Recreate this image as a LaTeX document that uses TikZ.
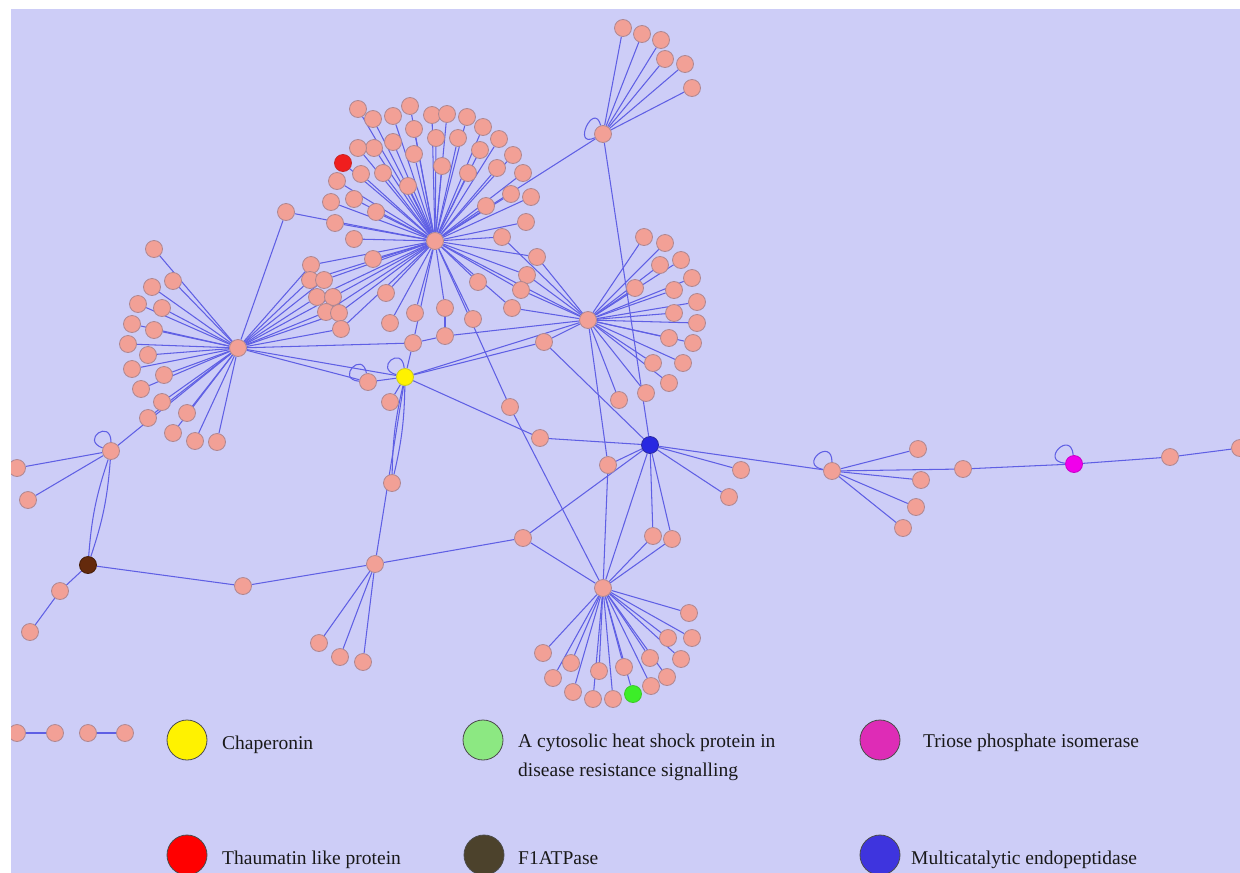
\documentclass[tikz,border=0pt]{standalone}
\usepackage{fontspec}
\setmainfont{Liberation Serif}
\pgfdeclarelayer{bg}\pgfdeclarelayer{edges}\pgfsetlayers{bg,edges,main}
\definecolor{bgc}{RGB}{205,205,247}
\definecolor{nodec}{RGB}{242,160,150}
\definecolor{nodeb}{RGB}{175,135,145}
\definecolor{edgec}{RGB}{95,95,228}
\definecolor{txtc}{RGB}{25,25,25}
\definecolor{lgreen}{RGB}{140,232,130}
\definecolor{lmag}{RGB}{222,44,182}
\definecolor{lbrown}{RGB}{76,66,44}
\definecolor{lblue}{RGB}{62,52,222}
\definecolor{nbrown}{RGB}{100,42,12}
\begin{document}
\begin{tikzpicture}[x=1pt,y=-1pt,
  pn/.style={circle,fill=nodec,draw=nodeb,line width=0.8pt,inner sep=0pt,minimum size=17pt},
  hubred/.style={pn,fill={rgb,255:red,240;green,30;blue,30},draw={rgb,255:red,200;green,40;blue,40}},
  lnk/.style={draw=edgec,line width=1.05pt},
  every loop/.style={},
  lg/.style={circle,draw=black!70,line width=0.8pt,inner sep=0pt,minimum size=40pt},
  lt/.style={anchor=base west,inner sep=0pt,text=txtc,font=\fontsize{19.5}{22}\selectfont}]
\useasboundingbox (0,0) rectangle (1240,873);
\begin{pgfonlayer}{bg}
\fill[white] (0,0) rectangle (1240,873);
\fill[bgc] (11,9) rectangle (1240,873);
\end{pgfonlayer}
% hubs
\node[pn] (H1) at (435,241) {};
\node[pn] (L) at (238,348) {};
\node[pn] (R) at (588,320) {};
\node[pn] (T3) at (603,134) {};
\node[pn] (B) at (603,588) {};
\node[pn,fill={rgb,255:red,40;green,40;blue,225},draw={rgb,255:red,40;green,40;blue,160}] (BL) at (650,445) {};
\node[pn,fill=yellow,draw={rgb,255:red,200;green,200;blue,40}] (YE) at (405,377) {};
\node[pn,fill=nbrown,draw={rgb,255:red,70;green,30;blue,10}] (BR) at (88,565) {};
\node[pn] (C) at (832,471) {};
\node[pn,fill={rgb,255:red,240;green,0;blue,235},draw={rgb,255:red,200;green,0;blue,200}] (MG) at (1074,464) {};
\node[hubred] (RD) at (343,163) {};
\node[pn,fill={rgb,255:red,60;green,238;blue,40},draw={rgb,255:red,60;green,200;blue,40}] (GR) at (633,694) {};
% leaves
\foreach \i/\x/\y in {1/623/28,2/642/34,3/661/40,4/665/59,5/685/64,6/692/88}
  \node[pn] (t\i) at (\x,\y) {};
\foreach \i/\x/\y in {1/358/109,2/373/119,3/393/116,4/410/106,5/432/115,6/447/114,7/467/117,8/483/127,
  9/414/129,10/436/138,11/458/138,12/499/139,13/513/155,14/480/150,15/393/142,16/374/148,17/358/148,
  18/414/154,19/442/166,20/468/173,21/497/168,22/523/173,23/383/173,24/361/174,25/337/181,26/408/186,
  27/511/194,28/531/197,29/354/199,30/331/202,31/486/206,32/376/212,33/335/223,34/526/222,35/502/237,
  36/354/239,37/373/259,38/537/257,39/527/275,40/478/282,41/521/290,42/512/308,43/386/293,44/390/323,
  45/415/313,46/445/308,47/473/319}
  \node[pn] (h\i) at (\x,\y) {};
\foreach \i/\x/\y in {1/311/265,2/310/280,3/324/280,4/317/297,5/333/297,6/326/312,7/339/313,8/341/329}
  \node[pn] (k\i) at (\x,\y) {};
\foreach \i/\x/\y in {1/154/249,2/173/281,3/152/287,4/162/308,5/138/304,6/132/324,7/154/330,8/128/344,
  9/148/355,10/132/369,11/164/375,12/141/389,13/162/402,14/148/418,15/187/413,16/173/433,17/195/441,18/217/442}
  \node[pn] (l\i) at (\x,\y) {};
\foreach \i/\x/\y in {1/644/237,2/665/243,3/660/265,4/681/260,5/692/278,6/635/288,7/674/290,8/697/302,
  9/674/313,10/697/323,11/669/338,12/693/343,13/653/363,14/683/363,15/669/383,16/646/393,17/619/400}
  \node[pn] (rl\i) at (\x,\y) {};
\foreach \i/\x/\y in {1/689/613,2/668/638,3/692/638,4/681/659,5/650/658,6/667/677,7/651/686,8/613/699,
  9/593/699,10/573/692,11/553/678,12/543/653,13/571/663,14/599/671,15/624/667}
  \node[pn] (bl\i) at (\x,\y) {};
\foreach \i/\x/\y in {1/918/449,2/921/480,3/916/507,4/903/528}
  \node[pn] (q\i) at (\x,\y) {};
\node[pn] (p286) at (286,212) {};
\node[pn] (NA) at (111,451) {};
\node[pn] (a1) at (17,468) {};
\node[pn] (a2) at (28,500) {};
\node[pn] (b1) at (60,591) {};
\node[pn] (b2) at (30,632) {};
\node[pn] (c1) at (243,586) {};
\node[pn] (D) at (375,564) {};
\node[pn] (d1) at (319,643) {};
\node[pn] (d2) at (340,657) {};
\node[pn] (d3) at (363,662) {};
\node[pn] (f1) at (392,483) {};
\node[pn] (g1) at (390,402) {};
\node[pn] (S1) at (368,382) {};
\node[pn] (m1) at (413,343) {};
\node[pn] (m2) at (445,336) {};
\node[pn] (E) at (523,538) {};
\node[pn] (n1) at (540,438) {};
\node[pn] (n2) at (510,407) {};
\node[pn] (n3) at (608,465) {};
\node[pn] (n4) at (653,536) {};
\node[pn] (n5) at (672,539) {};
\node[pn] (o1) at (741,470) {};
\node[pn] (o2) at (729,497) {};
\node[pn] (s2) at (544,342) {};
\node[pn] (u1) at (963,469) {};
\node[pn] (u2) at (1170,457) {};
\node[pn] (u3) at (1240,448) {};
\node[pn] (z1) at (17,733) {};
\node[pn] (z2) at (55,733) {};
\node[pn] (z3) at (88,733) {};
\node[pn] (z4) at (125,733) {};
% edges
\begin{pgfonlayer}{edges}
\foreach \i in {1,...,6} \draw[lnk] (T3) -- (t\i);
\draw[lnk] (T3) to[loop,out=205,in=105,min distance=26pt] (T3);
\draw[lnk] (T3) -- (H1);
\draw[lnk] (T3) -- (BL);
\foreach \i in {1,...,47} \draw[lnk] (H1) -- (h\i);
\foreach \i in {1,...,8} {\draw[lnk] (H1) -- (k\i); \draw[lnk] (L) -- (k\i);}
\draw[lnk] (H1) -- (RD);
\draw[lnk] (H1) -- (p286);
\draw[lnk] (H1) -- (m1);
\draw[lnk] (H1) -- (n2);
\draw[lnk] (H1) -- (R);
\foreach \i in {1,...,18} \draw[lnk] (L) -- (l\i);
\draw[lnk] (L) -- (p286);
\draw[lnk] (L) -- (NA);
\draw[lnk] (L) -- (m1);
\draw[lnk] (L) -- (S1);
\draw[lnk] (L) -- (YE);
\foreach \i in {1,...,17} \draw[lnk] (R) -- (rl\i);
\foreach \n in {h35,h38,h39,h41,h42,s2,m2,YE,n3} \draw[lnk] (R) -- (\n);
\draw[lnk] (YE) to[loop,out=165,in=95,min distance=24pt] (YE);
\draw[lnk] (S1) to[loop,out=175,in=100,min distance=24pt] (S1);
\draw[lnk] (YE) -- (m1);
\draw[lnk] (YE) -- (S1);
\draw[lnk] (YE) -- (g1);
\draw[lnk] (YE) to[bend left=6] (f1);
\draw[lnk] (YE) to[bend right=6] (f1);
\draw[lnk] (YE) -- (D);
\draw[lnk] (YE) -- (n1);
\draw[lnk] (YE) -- (s2);
\draw[lnk] (m2) -- (h46);
\draw[lnk] (m2) -- (m1);
\foreach \n in {s2,n1,n3,E,n4,n5,B,o1,o2,C} \draw[lnk] (BL) -- (\n);
\foreach \i in {1,...,15} \draw[lnk] (B) -- (bl\i);
\foreach \n in {GR,E,n2,n3,n4,n5} \draw[lnk] (B) -- (\n);
\draw[lnk] (NA) to[loop,out=160,in=90,min distance=24pt] (NA);
\draw[lnk] (NA) -- (a1);
\draw[lnk] (NA) -- (a2);
\draw[lnk] (NA) to[bend left=7] (BR);
\draw[lnk] (NA) to[bend right=7] (BR);
\draw[lnk] (BR) -- (b1);
\draw[lnk] (b1) -- (b2);
\draw[lnk] (BR) -- (c1);
\draw[lnk] (c1) -- (D);
\foreach \n in {d1,d2,d3,E} \draw[lnk] (D) -- (\n);
\draw[lnk] (C) to[loop,out=170,in=90,min distance=26pt] (C);
\foreach \i in {1,...,4} \draw[lnk] (C) -- (q\i);
\draw[lnk] (C) -- (u1);
\draw[lnk] (u1) -- (MG);
\draw[lnk] (MG) to[loop,out=175,in=95,min distance=26pt] (MG);
\draw[lnk] (MG) -- (u2);
\draw[lnk] (u2) -- (u3);
\draw[lnk] (z1) -- (z2);
\draw[lnk] (z3) -- (z4);
\end{pgfonlayer}
% legend
\node[lg,fill=yellow] (lg1) at (187,740) {};
\node[lg,fill=lgreen] (lg2) at (483,740) {};
\node[lg,fill=lmag] (lg3) at (880,740) {};
\node[lg,fill=red] (lg4) at (187,855) {};
\node[lg,fill=lbrown] (lg5) at (484,855) {};
\node[lg,fill=lblue] (lg6) at (880,855) {};
\node[lt] (tx1) at (222,749) {Chaperonin};
\node[lt] (tx2) at (518,747) {A cytosolic heat shock protein in};
\node[lt] (tx3) at (518,776) {disease resistance signalling};
\node[lt] (tx4) at (923,747) {Triose phosphate isomerase};
\node[lt] (tx5) at (222,864) {Thaumatin like protein};
\node[lt] (tx6) at (518,864) {F1ATPase};
\node[lt] (tx7) at (911,864) {Multicatalytic endopeptidase};
% white margins
\fill[white] (0,0) rectangle (11,873);
\fill[white] (0,0) rectangle (1240,9);
\end{tikzpicture}
\end{document}
